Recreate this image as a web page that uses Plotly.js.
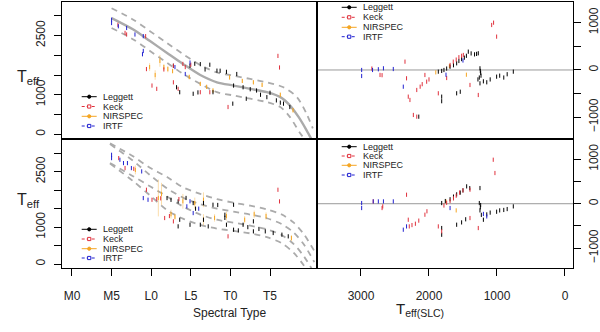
<!DOCTYPE html>
<html>
<head>
<meta charset="utf-8">
<script src="https://cdn.plot.ly/plotly-3.0.1.min.js"></script>
<style>
  html, body { margin: 0; padding: 0; background: #fff; }
  #chart { width: 600px; height: 332px; }
</style>
</head>
<body>
<div id="chart"></div>
<script>
// spectral type ticks (M0 = 0)
const sptTicks = [0, 5, 10, 15, 20, 25];
const sptLabels = ['M0', 'M5', 'L0', 'L5', 'T0', 'T5'];
const slcTicks = [3000, 2000, 1000, 0];

// top left: Teff vs spectral type
const tlLegSpt = [12.8, 13.2, 13.6, 14.9, 15.3, 15.5, 15.9, 16.2, 16.8, 17.4, 17.8, 18.3, 18.7, 19.5, 20.8, 20.3, 20.4, 21.6, 22.0, 22.5, 23.3, 23.8, 24.6, 25.0, 25.8, 26.3, 26.7, 27.5];
const tlLegTeff = [1733, 1190, 1065, 1733, 1025, 1785, 1060, 1775, 1640, 1760, 1065, 1610, 1608, 1580, 1525, 775, 1233, 1190, 900, 1140, 1108, 1000, 940, 1050, 858, 800, 775, 690];
const tlKeckSpt = [5.8, 6.7, 6.9, 9.3, 9.4, 10.1, 10.7, 11.6, 12.8, 12.8, 13.4, 14.3, 16.2, 17.4, 19.7, 26.0, 26.2, 14.0, 15.0];
const tlKeckTeff = [2770, 2565, 2525, 2483, 1650, 1233, 1150, 1640, 1315, 1733, 1150, 1700, 1065, 1065, 690, 1983, 1690, 1780, 1760];
const tlIrtfSpt = [5.0, 5.0, 5.85, 6.9, 7.95, 9.0, 9.0, 8.9, 13.0, 14.3, 14.9];
const tlIrtfTeff = [2815, 2900, 2733, 2690, 2525, 2483, 2108, 2025, 1700, 1525, 1815];
const tlNirSpt = [9.8, 10.5, 11.1, 11.6, 12.1, 12.7, 14.8, 16.2, 17.0, 17.8, 19.9, 21.5, 22.9, 24.0, 26.3, 27.9];
const tlNirTeff = [1700, 1500, 1858, 1700, 1650, 1600, 1450, 1275, 1200, 1108, 1440, 1350, 1315, 1250, 1000, 608];
const tlNirErr = [100, 120, 150, 80, 80, 60, 60, 50, 50, 50, 60, 50, 50, 50, 50, 50];

// top left fit and band
const tlFitSpt = [5.0, 7.74, 9.85, 11.96, 14.05, 16.2, 18.3, 20.4, 22.5, 24.6, 26.3, 27.5, 28.6, 29.6, 30.3];
const tlFitTeff = [2940, 2650, 2358, 2065, 1775, 1500, 1315, 1233, 1150, 1065, 940, 733, 440, 108, -150];
const tlUpSpt = [5.0, 7.74, 9.85, 11.96, 14.05, 16.2, 18.3, 20.4, 22.5, 24.6, 26.7, 28.4, 29.6, 30.4];
const tlUpTeff = [3190, 2900, 2608, 2315, 2025, 1750, 1565, 1483, 1400, 1315, 1190, 940, 525, 150];
const tlLoSpt = [5.0, 7.74, 9.85, 11.96, 14.05, 16.2, 18.3, 20.4, 22.5, 24.6, 26.3, 27.5, 28.8, 29.5];
const tlLoTeff = [2690, 2400, 2108, 1815, 1525, 1275, 1065, 983, 900, 815, 690, 440, 25, -150];

// bottom left: Teff vs spectral type
const blLegSpt = [12.0, 12.5, 13.4, 13.6, 13.4, 14.4, 14.9, 15.3, 15.6, 16.2, 16.6, 16.6, 17.2, 17.8, 18.4, 19.3, 19.3, 19.5, 20.4, 20.4, 21.0, 21.6, 22.2, 22.9, 22.9, 23.6, 24.4, 25.4, 26.5, 27.3];
const blLegTeff = [1787, 1740, 1697, 1200, 1020, 1790, 1064, 1652, 1500, 1064, 1652, 1200, 1020, 1606, 1600, 1335, 1250, 1064, 1606, 929, 910, 1064, 1000, 1156, 885, 950, 885, 840, 795, 750];
const blKeckSpt = [5.9, 6.7, 7.8, 9.4, 10.1, 10.7, 11.7, 12.8, 12.3, 13.5, 19.7, 26.0, 26.2, 11.2];
const blKeckTeff = [2870, 2600, 2580, 2012, 1741, 1760, 1246, 1156, 1300, 1760, 750, 2012, 1697, 1780];
const blIrtfSpt = [5.0, 5.0, 6.05, 6.5, 7.0, 7.5, 8.8, 9.0, 9.6, 14.5, 14.9, 15.3, 16.0];
const blIrtfTeff = [2960, 2870, 2825, 2735, 2735, 2600, 2510, 1787, 1741, 1562, 1700, 1381, 1500];
const blNirSpt = [8.0, 10.9, 11.3, 12.5, 13.0, 14.0, 15.5, 16.6, 16.6, 18.0, 19.5, 21.8, 23.0, 24.5, 27.7];
const blNirTeff = [2550, 1790, 1900, 1350, 1280, 1700, 1650, 1741, 1200, 1250, 1300, 1200, 1350, 1300, 704];
const blNirErr = [120, 500, 300, 120, 80, 200, 150, 200, 150, 100, 120, 100, 100, 100, 80];

// bottom left bands (two fits, each +/- sigma)
const blBandSpt = [4.8, 7.7, 9.9, 12.0, 14.0, 16.2, 18.3, 20.4, 22.5, 24.6, 26.5, 28.0, 29.3, 30.6];
const blBandA = [3270, 2920, 2600, 2360, 2080, 1900, 1760, 1660, 1580, 1480, 1340, 1120, 800, 350];
const blBandB = [3250, 2800, 2400, 2050, 1800, 1620, 1500, 1420, 1340, 1240, 1080, 850, 520, 50];
const blBandC = [2740, 2380, 2100, 1830, 1560, 1340, 1200, 1120, 1040, 940, 780, 540, 200, -250];
const blBandD = [2720, 2250, 1850, 1460, 1230, 1060, 960, 900, 830, 730, 560, 300, -50, -500];

// top right: residual vs Teff(SLC)
const trLegT = [1863, 1813, 1780, 1740, 1690, 1640, 1593, 1560, 1520, 1480, 1450, 1422, 1380, 1330, 1300, 1275, 1250, 1245, 1240, 1235, 1250, 1280, 1260, 1200, 1150, 1100, 1005, 960, 900, 850, 760, 1593, 1540, 1813, 1813, 2150];
const trLegR = [-35, -20, 0, 30, 70, 100, 141, 190, 230, 260, 300, 387, 350, 330, 340, 353, 35, -20, -60, -120, -282, -200, -160, -240, -260, -200, -141, -120, -160, -90, -35, -493, -460, -564, -660, -987];
const trKeckT = [2840, 2720, 2690, 2353, 2330, 2305, 2280, 2230, 2180, 2180, 2130, 2100, 2060, 2034, 2000, 1863, 1740, 1690, 1643, 1600, 1560, 1520, 1495, 1397, 1275, 1078, 1050, 1005];
const trKeckR = [30, -105, -110, 176, -176, -564, -634, -951, -987, -423, -353, -300, -106, -247, -200, -493, -170, 106, 176, 220, 270, 300, 317, -317, -529, 951, 1000, 705];
const trIrtfT = [2990, 2990, 2830, 2745, 2670, 2525, 2378, 1750, 1500];
const trIrtfR = [0, -127, 0, 15, 35, 20, -353, -100, 200];
const trNirT = [1900, 1700, 1450];
const trNirR = [-50, 80, -100];

// bottom right: residual vs Teff(SLC)
const brLegT = [1813, 1760, 1690, 1640, 1593, 1540, 1500, 1446, 1400, 1250, 1260, 1240, 1245, 1250, 1230, 1200, 1150, 1100, 1005, 960, 900, 850, 760, 1593, 1520, 1460, 1813, 1813];
const brLegR = [15, 60, 100, 160, 210, 250, 300, 390, 350, 352, 15, -30, -80, -150, -250, -360, -240, -200, -180, -150, -140, -120, -60, -472, -420, -350, -547, -697];
const brKeckT = [2820, 2690, 2680, 2330, 2305, 2290, 2250, 2200, 2150, 2060, 2030, 1863, 1813, 1780, 1740, 1690, 1640, 1600, 1550, 1500, 1397, 1397, 1275, 1055, 1030];
const brKeckR = [52, -97, -60, 202, -360, -510, -480, -450, -380, -247, -170, -510, -622, -40, 20, 60, 120, 180, 250, 300, 315, -322, -547, 989, 690];
const brIrtfT = [2990, 2990, 2820, 2745, 2670, 2525, 2378, 2330, 1690, 1150, 1200];
const brIrtfR = [15, -97, 52, 52, 52, 52, -584, -510, -97, -285, -230];
const brNirT = [1750, 1600];
const brNirR = [50, -150];

const legendNames = ['Leggett', 'Keck', 'NIRSPEC', 'IRTF'];

const BLACK = '#000000';
const RED = '#e0303c';
const ORANGE = '#f5a623';
const BLUE = '#2020d0';
const GRAY = '#ababab';
const FONT = 'Liberation Sans, Arial, sans-serif';

function pts(x, y, color, xa, ya, err) {
    const t = {
        x: x, y: y, xaxis: xa, yaxis: ya,
        type: 'scatter', mode: 'markers', showlegend: false, hoverinfo: 'skip',
        marker: { symbol: 'line-ns-open', size: 3, color: color, line: { color: color, width: 1 } }
    };
    if (err) {
        t.error_y = { type: 'data', array: err, visible: true, color: 'rgba(245,166,35,0.55)', thickness: 0.7, width: 0 };
    }
    return t;
}

function curve(x, y, dash, width, xa, ya) {
    return {
        x: x, y: y, xaxis: xa, yaxis: ya,
        type: 'scatter', mode: 'lines', showlegend: false, hoverinfo: 'skip',
        line: { color: GRAY, width: width, dash: dash, shape: 'spline', smoothing: 0.8 }
    };
}

const traces = [
    curve(tlFitSpt, tlFitTeff, 'solid', 2.4, 'x', 'y'),
    curve(tlUpSpt, tlUpTeff, '6px,5px', 1.8, 'x', 'y'),
    curve(tlLoSpt, tlLoTeff, '6px,5px', 1.8, 'x', 'y'),
    pts(tlNirSpt, tlNirTeff, ORANGE, 'x', 'y', tlNirErr),
    pts(tlLegSpt, tlLegTeff, BLACK, 'x', 'y'),
    pts(tlKeckSpt, tlKeckTeff, RED, 'x', 'y'),
    pts(tlIrtfSpt, tlIrtfTeff, BLUE, 'x', 'y'),

    pts(trNirT, trNirR, ORANGE, 'x2', 'y2'),
    pts(trLegT, trLegR, BLACK, 'x2', 'y2'),
    pts(trKeckT, trKeckR, RED, 'x2', 'y2'),
    pts(trIrtfT, trIrtfR, BLUE, 'x2', 'y2'),

    curve(blBandSpt, blBandA, '6px,5px', 1.8, 'x3', 'y3'),
    curve(blBandSpt, blBandB, '6px,5px', 1.8, 'x3', 'y3'),
    curve(blBandSpt, blBandC, '6px,5px', 1.8, 'x3', 'y3'),
    curve(blBandSpt, blBandD, '6px,5px', 1.8, 'x3', 'y3'),
    pts(blNirSpt, blNirTeff, ORANGE, 'x3', 'y3', blNirErr),
    pts(blLegSpt, blLegTeff, BLACK, 'x3', 'y3'),
    pts(blKeckSpt, blKeckTeff, RED, 'x3', 'y3'),
    pts(blIrtfSpt, blIrtfTeff, BLUE, 'x3', 'y3'),

    pts(brNirT, brNirR, ORANGE, 'x4', 'y4'),
    pts(brLegT, brLegR, BLACK, 'x4', 'y4'),
    pts(brKeckT, brKeckR, RED, 'x4', 'y4'),
    pts(brIrtfT, brIrtfR, BLUE, 'x4', 'y4')
];

// pixel helpers for paper coords
const W = 600, H = 332;
const px = v => v / W;
const py = v => 1 - v / H;

const xL = [px(62), px(317)];
const xR = [px(317), px(573)];
const yT = [py(139), py(2)];
const yB = [py(268), py(139)];

const base = {
    showline: true, linecolor: '#000', linewidth: 1, mirror: true,
    showgrid: false, zeroline: false,
    ticks: 'outside', tickcolor: '#000', ticklen: 7, tickwidth: 1,
    tickfont: { family: FONT, size: 12, color: '#222' }
};

const teffTicks = [0, 500, 1000, 1500, 2000, 2500, 3000];
const teffText = ['0', '', '1000', '', '', '2500', ''];
const resTicks = [-1000, -500, 0, 500, 1000];
const resText = ['\u22121000', '', '0', '', '1000'];

const layout = {
    width: W, height: H,
    margin: { l: 0, r: 0, t: 0, b: 0 },
    paper_bgcolor: '#fff', plot_bgcolor: '#fff',
    showlegend: false,
    font: { family: FONT, color: '#222' },
    xaxis: Object.assign({}, base, { domain: xL, anchor: 'y', range: [-1.26, 30.93], ticks: '', showticklabels: false }),
    yaxis: Object.assign({}, base, { domain: yT, anchor: 'x', range: [-119, 3347], tickvals: teffTicks, ticktext: teffText, tickangle: -90, ticklabelstandoff: 4 }),
    xaxis2: Object.assign({}, base, { domain: xR, anchor: 'y2', range: [3647, -118], ticks: '', showticklabels: false }),
    yaxis2: Object.assign({}, base, { domain: yT, anchor: 'x2', side: 'right', range: [-1459, 1437], tickvals: resTicks, ticktext: resText, tickangle: -90, ticklabelstandoff: 3 }),
    xaxis3: Object.assign({}, base, { domain: xL, anchor: 'y3', range: [-1.26, 30.93], tickvals: sptTicks, ticktext: sptLabels, ticklabelstandoff: 10 }),
    yaxis3: Object.assign({}, base, { domain: yB, anchor: 'x3', range: [-108, 3388], tickvals: teffTicks, ticktext: teffText, tickangle: -90, ticklabelstandoff: 4 }),
    xaxis4: Object.assign({}, base, { domain: xR, anchor: 'y4', range: [3647, -118], tickvals: slcTicks, ticktext: slcTicks.map(String), ticklabelstandoff: 10 }),
    yaxis4: Object.assign({}, base, { domain: yB, anchor: 'x4', side: 'right', range: [-1445, 1455], tickvals: resTicks, ticktext: resText, tickangle: -90, ticklabelstandoff: 3 }),
    shapes: [
        { type: 'line', xref: 'x2 domain', yref: 'y2', x0: 0, x1: 1, y0: 0, y1: 0, line: { color: '#999', width: 1 }, layer: 'below' },
        { type: 'line', xref: 'x4 domain', yref: 'y4', x0: 0, x1: 1, y0: 0, y1: 0, line: { color: '#999', width: 1 }, layer: 'below' }
    ],
    annotations: [
        { text: 'Spectral Type', xref: 'paper', yref: 'paper', x: px(191), y: py(322), showarrow: false, font: { size: 12, color: '#222' } },
        { text: 'T<sub>eff(SLC)</sub>', xref: 'paper', yref: 'paper', x: px(446), y: py(321), showarrow: false, font: { size: 15, color: '#222' } },
        { text: 'T<sub>eff</sub>', xref: 'paper', yref: 'paper', x: px(15), y: py(66), showarrow: false, font: { size: 16, color: '#222' } },
        { text: 'T<sub>eff</sub>', xref: 'paper', yref: 'paper', x: px(15), y: py(200), showarrow: false, font: { size: 16, color: '#222' } }
    ]
};

// hand drawn legends (R style: line + symbol)
const legStyle = [
    { color: BLACK, dash: 'solid', sym: 'dot' },
    { color: RED, dash: 'dash', sym: 'sq' },
    { color: ORANGE, dash: 'solid', sym: 'dot' },
    { color: BLUE, dash: 'dash', sym: 'sq' }
];

function addLegend(x0, rows) {
    const x1 = x0 + 15, xm = x0 + 7.5;
    rows.forEach((ry, i) => {
        const s = legStyle[i];
        layout.shapes.push({
            type: 'line', xref: 'paper', yref: 'paper',
            x0: px(x0), x1: px(x1), y0: py(ry), y1: py(ry),
            line: { color: s.color, width: 1, dash: s.dash === 'dash' ? '3px,2px' : 'solid' }
        });
        if (s.sym === 'dot') {
            layout.shapes.push({
                type: 'circle', xref: 'paper', yref: 'paper',
                x0: px(xm - 1.6), x1: px(xm + 1.6), y0: py(ry + 1.6), y1: py(ry - 1.6),
                fillcolor: s.color, line: { color: s.color, width: 1 }
            });
        } else {
            layout.shapes.push({
                type: 'rect', xref: 'paper', yref: 'paper',
                x0: px(xm - 1.6), x1: px(xm + 1.6), y0: py(ry + 1.6), y1: py(ry - 1.6),
                fillcolor: '#fff', line: { color: s.color, width: 1 }
            });
        }
        layout.annotations.push({
            text: legendNames[i], xref: 'paper', yref: 'paper',
            x: px(x1 + 5), y: py(ry), xanchor: 'left', yanchor: 'middle',
            showarrow: false, borderpad: 0, font: { size: 9, color: '#222' }
        });
    });
}

addLegend(81.7, [96.7, 106.5, 116.3, 126]);
addLegend(81.7, [229.3, 239, 248.7, 258]);
addLegend(341.7, [7.3, 17.3, 27.3, 36.7]);
addLegend(341.7, [146.7, 156, 165.3, 175]);

Plotly.newPlot('chart', traces, layout, { staticPlot: true, displayModeBar: false });
</script>
</body>
</html>
